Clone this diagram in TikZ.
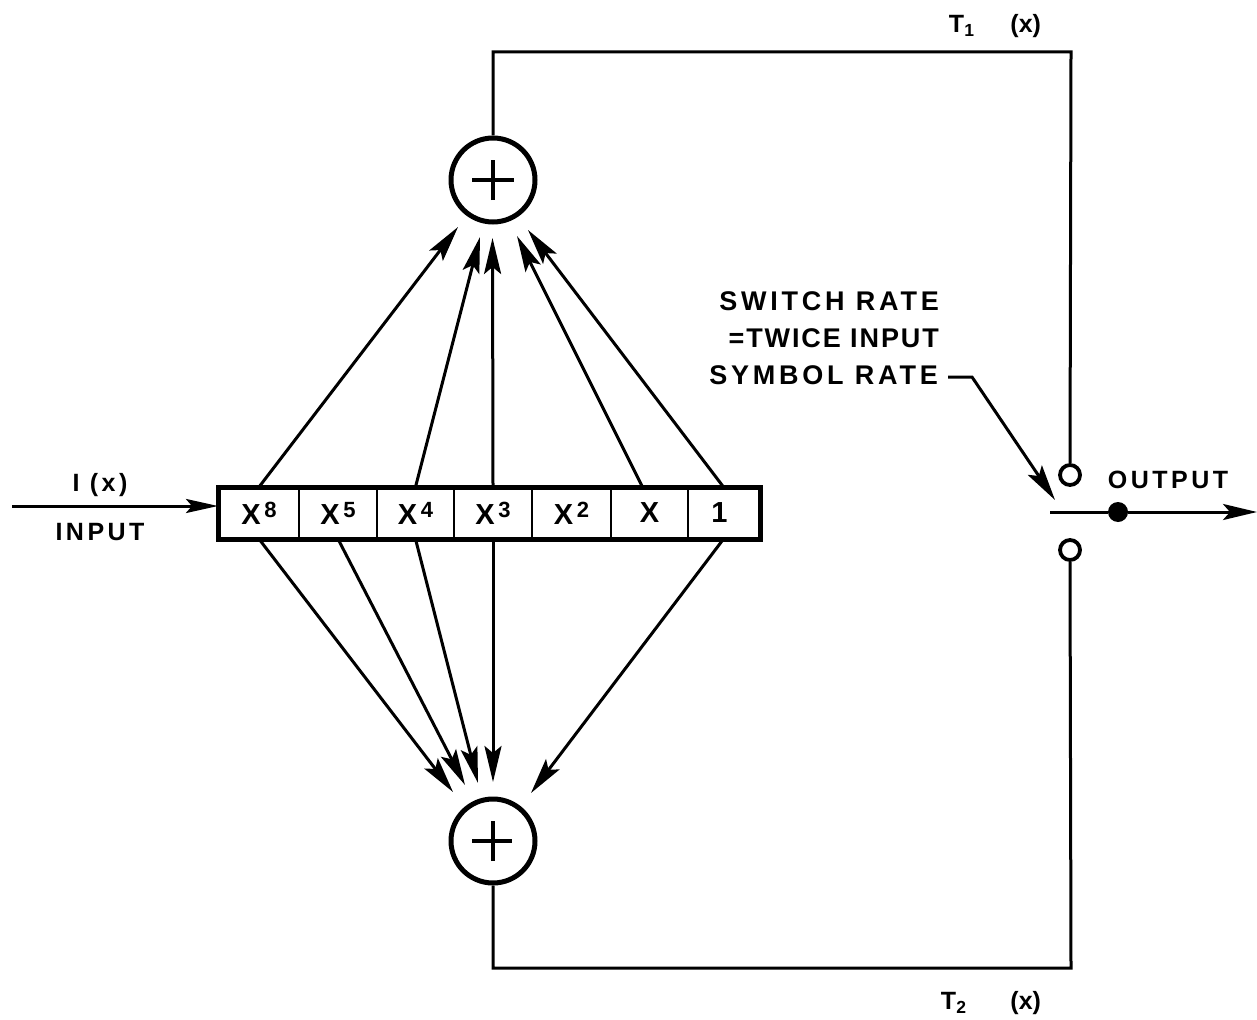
\documentclass[tikz,border=0pt]{standalone}
\usepackage{fontspec}
\setmainfont{Liberation Sans}[BoldFont={Liberation Sans Bold}]
\newfontfamily\lbl[LetterSpace=14,BoldFont={Liberation Sans Bold}]{Liberation Sans}
\newfontfamily\lblw[LetterSpace=14,BoldFont={Liberation Sans Bold}]{Liberation Sans}
\newfontfamily\lbln[LetterSpace=7,BoldFont={Liberation Sans Bold}]{Liberation Sans}
\usetikzlibrary{arrows.meta}
\newcommand{\supx}[1]{X\raisebox{7pt}{\fontsize{22}{22}\selectfont\,#1}}
\tikzset{
  wire/.style={line width=3pt},
  tipped/.style={wire,-{Stealth[length=36pt,width=17pt,inset=7pt]}},
  cellbox/.style={draw,line width=2pt,minimum height=50pt,inner sep=0pt,font=\fontsize{29}{29}\selectfont\bfseries,anchor=center},
  sumnode/.style={circle,draw,line width=5pt,minimum size=84pt,inner sep=0pt},
  plusline/.style={line width=3.4pt},
  portnode/.style={circle,draw,line width=3.8pt,minimum size=20pt,inner sep=0pt},
  dotnode/.style={circle,fill,minimum size=20pt,inner sep=0pt},
  txt/.style={font=\fontsize{25}{25}\selectfont\bfseries\lbl,inner sep=0pt},
  txtw/.style={font=\fontsize{27}{27}\selectfont\bfseries\lblw,inner sep=0pt},
  txtn/.style={font=\fontsize{27}{27}\selectfont\bfseries\lbln,inner sep=0pt},
  tlabel/.style={font=\fontsize{25}{25}\selectfont\bfseries,inner sep=0pt,anchor=center}
}
\begin{document}
\begin{tikzpicture}[x=1pt,y=-1pt]
\useasboundingbox (0,0) rectangle (1257,1019);
% register
\node[cellbox,minimum width=80pt] (c8) at (259,513) {\supx{8}};
\node[cellbox,minimum width=78pt] (c5) at (338,513) {\supx{5}};
\node[cellbox,minimum width=77pt] (c4) at (415.5,513) {\supx{4}};
\node[cellbox,minimum width=78pt] (c3) at (493,513) {\supx{3}};
\node[cellbox,minimum width=79pt] (c2) at (571.5,513) {\supx{2}};
\node[cellbox,minimum width=77pt] (c1) at (649.5,513) {X\hspace{25pt}};
\node[cellbox,minimum width=72pt] (c0) at (723.5,513) {\hspace{-8pt}1};
\draw[line width=5pt] (c8.north west) rectangle (c0.south east);
% adders
\node[sumnode] (top) at (493,180) {};
\node[sumnode] (bot) at (493,841) {};
\draw[plusline] ([xshift=-21pt]top.center) -- ([xshift=21pt]top.center);
\draw[plusline] ([yshift=-20pt]top.center) -- ([yshift=20pt]top.center);
\draw[plusline] ([xshift=-21pt]bot.center) -- ([xshift=19pt]bot.center);
\draw[plusline] ([yshift=-20pt]bot.center) -- ([yshift=20pt]bot.center);
% arrow ends around the adders
\coordinate (t8) at (458,227);
\coordinate (t4) at (480,237);
\coordinate (t3) at (492.5,238);
\coordinate (t1) at (517,236);
\coordinate (t0) at (528,230);
\coordinate (b8) at (453,792);
\coordinate (b5) at (465,785);
\coordinate (b4) at (478,783);
\coordinate (b3) at (493,782);
\coordinate (b0) at (531,793);
\draw[tipped] (c8.north) -- (t8);
\draw[tipped] (c4.north) -- (t4);
\draw[tipped] (c3.north) -- (t3);
\draw[tipped] ([xshift=-7pt]c1.north) -- (t1);
\draw[tipped] (c0.north) -- (t0);
\draw[tipped] (c8.south) -- (b8);
\draw[tipped] (c5.south) -- (b5);
\draw[tipped] (c4.south) -- (b4);
\draw[tipped] (c3.south) -- (b3);
\draw[tipped] (c0.south) -- (b0);
% switch
\node[portnode] (p1) at (1070,475) {};
\node[portnode] (p2) at (1070,550) {};
\node[dotnode] (dot) at (1118,512) {};
\coordinate (swin) at (1050,512);
\coordinate (swout) at (1257,512);
\draw[wire] (swin) -- (dot);
\draw[wire,-{Stealth[length=34pt,width=16pt,inset=7pt]}] (dot) -- (swout);
% outputs of adders to switch
\draw[wire] (top.north) |- (1071,52) -- (p1.north);
\draw[wire] (bot.south) |- (1071,968) -- (p2.south);
% input
\coordinate (inp) at (12,506);
\draw[wire,-{Stealth[length=32pt,width=14pt,inset=6pt]}] (inp) -- (c8.west |- inp);
% labels
\node[txt,anchor=center] (li) at (100,485) {I (x)};
\node[txt,anchor=center] (lin) at (100,532) {INPUT};
\node[txt,anchor=center] (lo) at (1168,480) {OUTPUT};
\node[txtw,anchor=east] (s1) at (939,301) {SWITCH RATE};
\node[txtn,anchor=east] (s2) at (939,338) {=TWICE INPUT};
\node[txtw,anchor=east] (s3) at (938,375) {SYMBOL RATE};
\node[tlabel] (t1l) at (995,26) {T\textsubscript{1}\hspace{36pt}(x)};
\node[tlabel] (t2l) at (991,1003) {T\textsubscript{2}\hspace{44pt}(x)};
% rate pointer
\coordinate (rp) at (948,377);
\coordinate (rk) at (972,377);
\coordinate (rt) at (1055,500);
\draw[wire,-{Stealth[length=36pt,width=17pt,inset=7pt]}] (rp) -- (rk) -- (rt);
\end{tikzpicture}
\end{document}
